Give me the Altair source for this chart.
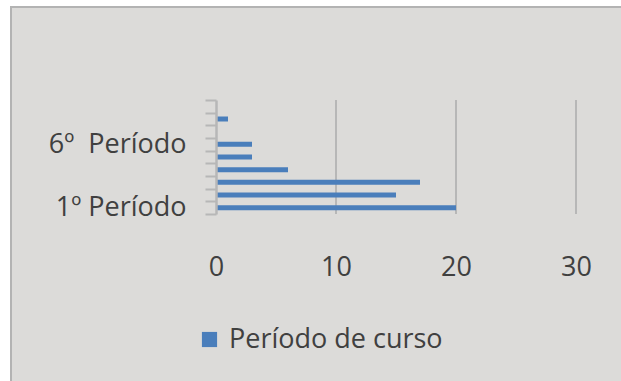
import altair as alt
import pandas as pd

# Students per course period
periods = ["1º Período", "2º Período", "3º Período", "4º Período", "5º Período",
           "6º Período", "7º Período", "8º Período", "9º Período"]
counts = [20, 15, 17, 6, 3, 3, 0, 1, 0]
series_name = "Período de curso"
grid_values = [10, 20, 30]
x_ticks = [0, 10, 20, 30]

df = pd.DataFrame({"periodo": periods, "alunos": counts, "serie": series_name})
grid_df = pd.DataFrame({"v": grid_values})

FONT = "Open Sans"
TEXT = "#404040"
GRAY = "#b7b7b7"
BLUE = "#4a7ebb"

order = periods[::-1]  # last period on top

x_scale = alt.Scale(domain=[0, 30], nice=False)
y_scale = alt.Scale(domain=order, paddingInner=0, paddingOuter=0)

x_axis = alt.Axis(
    values=x_ticks, title=None, grid=False, domain=False, ticks=False,
    labelFont=FONT, labelFontSize=27, labelColor=TEXT, labelPadding=40,
    labelFlush=False, zindex=1,
)

# outer panel with its border
frame = alt.Chart(alt.Data(values=[{"k": 1}])).mark_rect(
    fill="#dcdbd9", stroke="#b3b3b3", strokeWidth=2
).encode(
    x=alt.value(-205), x2=alt.value(420),
    y=alt.value(-93), y2=alt.value(300),
)

grid = alt.Chart(grid_df).mark_rule(color=GRAY, strokeWidth=2).encode(
    x=alt.X("v:Q", scale=x_scale, axis=x_axis)
)

label_expr = ("datum.value == '1º Período' ? '1º Período' : "
              "(datum.value == '6º Período' ? '6º\u00a0 Período' : '')")

bars = alt.Chart(df).mark_bar(color=BLUE, size=5).encode(
    x=alt.X("alunos:Q", scale=x_scale, axis=x_axis),
    y=alt.Y("periodo:N", sort=order, scale=y_scale, axis=alt.Axis(
        title=None, tickBand="extent", tickSize=11, tickColor=GRAY, tickWidth=2,
        domainColor=GRAY, domainWidth=2.5, labelExpr=label_expr,
        labelFont=FONT, labelFontSize=27, labelColor=TEXT, labelPadding=19,
        labelLimit=0, zindex=1,
    )),
    fill=alt.Fill("serie:N", scale=alt.Scale(range=[BLUE]), legend=alt.Legend(
        title=None, orient="none", legendX=-20, legendY=226,
        symbolType="square", symbolSize=230, symbolStrokeWidth=0,
        labelFont=FONT, labelFontSize=27, labelColor=TEXT, labelOffset=6,
        labelLimit=0,
    )),
)

chart = alt.layer(frame, grid, bars).properties(
    width=360, height=114,
    autosize=alt.AutoSizeParams(type="none"),
    padding={"left": 216, "top": 100, "right": 45, "bottom": 167},
    background="white",
).configure_view(stroke=None)

chart.save("out.html", embed_options={"renderer": "svg", "actions": False})
